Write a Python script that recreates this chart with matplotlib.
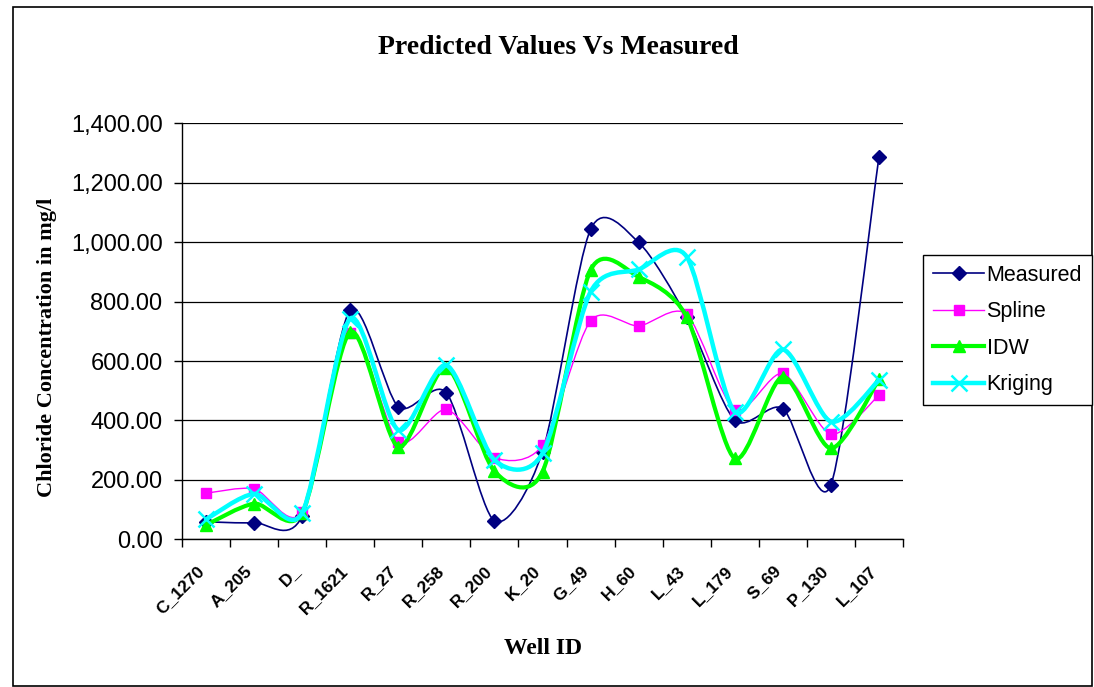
import matplotlib
matplotlib.use("Agg")
import matplotlib.pyplot as plt
import numpy as np
from matplotlib.path import Path
from matplotlib.patches import PathPatch, Rectangle
from matplotlib.lines import Line2D
from matplotlib.ticker import FuncFormatter, FixedLocator
from matplotlib.transforms import ScaledTranslation

wells = ["C_1270", "A_205", "D_", "R_1621", "R_27", "R_258", "R_200", "K_20",
         "G_49", "H_60", "L_43", "L_179", "S_69", "P_130", "L_107"]
measured = [59, 56, 79, 771, 446, 493, 62, 295, 1043, 999, 749, 401, 440, 183, 1287]
spline = [155, 170, 93, 695, 328, 437, 275, 317, 735, 718, 757, 435, 558, 354, 485]
idw = [48, 120, 88, 698, 311, 578, 229, 227, 906, 883, 749, 272, 547, 306, 538]
kriging = [67, 153, 89, 743, 368, 586, 267, 289, 833, 908, 951, 429, 639, 396, 536]

W, H = 1094, 687
fig = plt.figure(figsize=(W / 100, H / 100), dpi=100)
fig.patch.set_facecolor("white")
fig.patches.append(Rectangle((13 / W, 1 / H), (W - 15) / W, (H - 8) / H,
                             transform=fig.transFigure, fill=False,
                             edgecolor="black", linewidth=1.2))

ax = fig.add_axes([182 / W, 1 - 539.3 / H, (903 - 182) / W, (539.3 - 123.3) / H])
n = len(wells)
x = np.arange(n)
ax.set_xlim(-0.5, n - 0.5)
ax.set_ylim(0, 1400)

TENSION = 0.135


def smooth_path(xs, ys):
    pts = np.column_stack([xs, ys]).astype(float)
    verts = [pts[0]]
    codes = [Path.MOVETO]
    m = len(pts)
    for i in range(m - 1):
        p0 = pts[i - 1] if i > 0 else pts[i]
        p1 = pts[i]
        p2 = pts[i + 1]
        p3 = pts[i + 2] if i + 2 < m else pts[i + 1]
        c1 = p1 + (p2 - p0) * TENSION
        c2 = p2 - (p3 - p1) * TENSION
        verts += [c1, c2, p2]
        codes += [Path.CURVE4] * 3
    return Path(verts, codes)


series = [
    ("Measured", measured, "#000080", 1.2, "D", 7, 1.0),
    ("Spline", spline, "#FF00FF", 1.0, "s", 7.5, 1.0),
    ("IDW", idw, "#00FF00", 3.0, "^", 8.5, 1.0),
    ("Kriging", kriging, "#00FFFF", 3.2, "x", 12, 1.8),
]

handles = []
for k, (name, vals, col, lw, mk, ms, mew) in enumerate(series):
    p = smooth_path(x, vals)
    ax.add_patch(PathPatch(p, fill=False, edgecolor=col, linewidth=lw,
                           zorder=3 + k * 2, capstyle="round", joinstyle="round"))
    ax.plot(x, vals, linestyle="none", marker=mk, markersize=ms, color=col,
            markeredgecolor=col, markeredgewidth=mew, zorder=4 + k * 2, clip_on=False)
    handles.append(Line2D([0], [0], color=col, linewidth=lw, marker=mk,
                          markersize=ms, markeredgecolor=col, markeredgewidth=mew))

# grid
ax.set_yticks(np.arange(0, 1401, 200))
ax.yaxis.set_major_formatter(FuncFormatter(lambda v, p: f"{v:,.2f}"))
ax.grid(axis="y", color="black", linewidth=0.9)
ax.set_axisbelow(True)
for s in ["top", "right"]:
    ax.spines[s].set_visible(False)
ax.spines["left"].set_linewidth(1.0)
ax.spines["bottom"].set_linewidth(1.0)

ax.tick_params(axis="y", direction="out", length=6, width=1.0,
               labelsize=17, pad=8)
for lab in ax.get_yticklabels():
    lab.set_family(["Liberation Sans", "DejaVu Sans"])

ax.set_xticks(x)
ax.set_xticklabels(wells, rotation=45, ha="right", rotation_mode="anchor",
                   fontsize=12.5, fontweight="bold",
                   family=["Liberation Sans", "DejaVu Sans"])
ax.tick_params(axis="x", which="major", length=0, pad=17)
shift = ScaledTranslation(-10 / 100, 0, fig.dpi_scale_trans)
for lab in ax.get_xticklabels():
    lab.set_transform(lab.get_transform() + shift)
ax.xaxis.set_minor_locator(FixedLocator(np.arange(-0.5, n, 1.0)))
ax.tick_params(axis="x", which="minor", direction="out", length=6, width=1.0)

fig.text(558 / W, 1 - 47 / H, "Predicted Values Vs Measured", ha="center",
         va="center", fontsize=20, fontweight="bold",
         family=["Liberation Serif", "DejaVu Serif"])
fig.text(47 / W, 1 - 347 / H, "Chloride Concentration in mg/l", ha="center",
         va="center", rotation=90, fontsize=16, fontweight="bold",
         family=["Liberation Serif", "DejaVu Serif"])
fig.text(543 / W, 1 - 649 / H, "Well ID", ha="center", va="center",
         fontsize=17, fontweight="bold", family=["Liberation Serif", "DejaVu Serif"])

leg = fig.legend(handles, [s[0] for s in series], loc="upper left",
                 bbox_to_anchor=(923 / W, 1 - 255 / H), frameon=True,
                 fancybox=False, edgecolor="black", framealpha=1,
                 prop={"family": ["Liberation Sans", "DejaVu Sans"], "size": 15.5},
                 handlelength=2.4, handletextpad=0.1, labelspacing=0.72,
                 borderpad=0.45, borderaxespad=0)
leg.get_frame().set_linewidth(1.0)

fig.savefig("out.png", dpi=100)
